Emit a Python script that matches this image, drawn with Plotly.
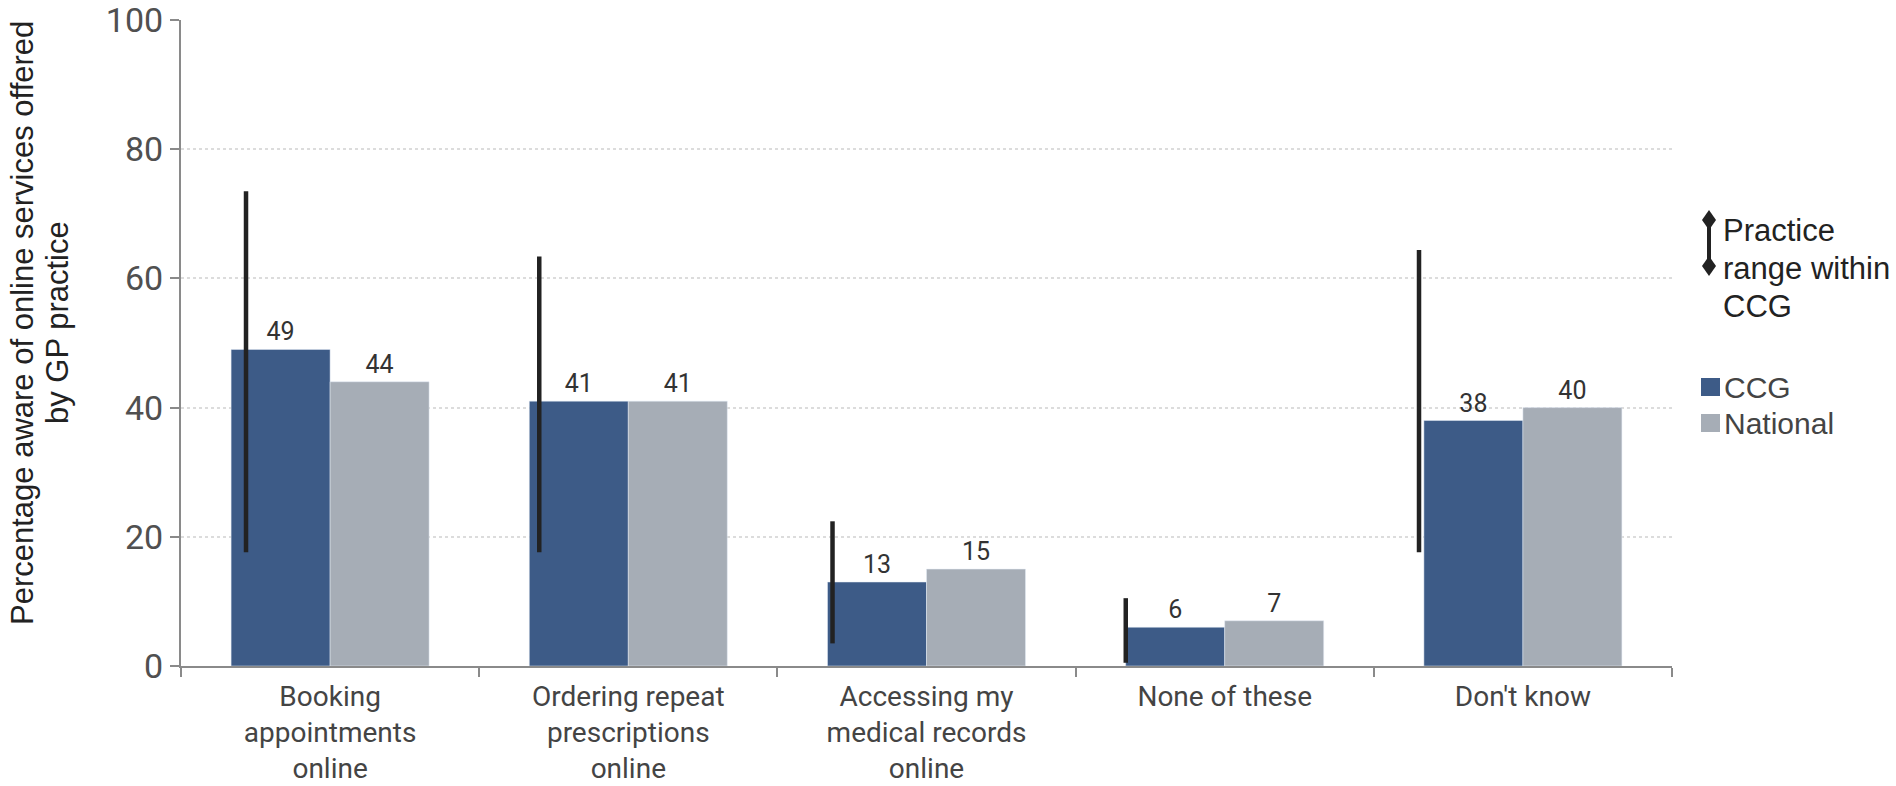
import plotly.graph_objects as go

categories = ["Booking<br>appointments<br>online",
              "Ordering repeat<br>prescriptions<br>online",
              "Accessing my<br>medical records<br>online",
              "None of these",
              "Don't know"]
ccg = [49, 41, 13, 6, 38]
national = [44, 41, 15, 7, 40]
range_low = [17.6, 17.6, 3.5, 0.5, 17.6]
range_high = [73.5, 63.4, 22.4, 10.5, 64.4]
y_ticks = [0, 20, 40, 60, 80, 100]

CCG_COLOR = "#3d5b87"
NAT_COLOR = "#a6adb6"
LINE_COLOR = "#222222"

W, H = 1896, 786
L, R, T, B = 181, 224, 20, 120
PW = W - L - R
PH = H - T - B

def px(xp):
    return (xp - L) / PW

def py(yp):
    return (H - B - yp) / PH

fig = go.Figure()
fig.add_trace(go.Bar(x=categories, y=ccg, name="CCG", marker_color=CCG_COLOR,
                     text=[str(v) for v in ccg], textposition="outside",
                     textfont=dict(family="Roboto", size=25, color="#333333"),
                     cliponaxis=False, showlegend=False))
fig.add_trace(go.Bar(x=categories, y=national, name="National", marker_color=NAT_COLOR,
                     text=[str(v) for v in national], textposition="outside",
                     textfont=dict(family="Roboto", size=25, color="#333333"),
                     cliponaxis=False, showlegend=False))

lx, ly = [], []
for i, (lo, hi) in enumerate(zip(range_low, range_high)):
    lx += [i, i, None]
    ly += [lo, hi, None]
fig.add_trace(go.Scatter(x=lx, y=ly, mode="lines", xaxis="x2", yaxis="y",
                         line=dict(color=LINE_COLOR, width=4.5), showlegend=False,
                         hoverinfo="skip"))

fig.update_layout(
    width=W, height=H,
    margin=dict(l=L, r=R, t=T, b=B, pad=0, autoexpand=False),
    paper_bgcolor="white", plot_bgcolor="white",
    barmode="group", bargap=0.336, bargroupgap=0,
    font=dict(family="Roboto", color="#444444"),
    xaxis=dict(tickson="boundaries", ticks="outside", ticklen=9, tickwidth=1.5,
               tickcolor="#8a8a8a", showline=True, linecolor="#8a8a8a", linewidth=2,
               tickfont=dict(family="Roboto", size=28, color="#444444"),
               ticklabelstandoff=4, automargin=False,
               showgrid=False, zeroline=False),
    xaxis2=dict(overlaying="x", range=[-0.2217, 4.8627], visible=False),
    yaxis=dict(range=[0, 100], tickvals=y_ticks, ticks="outside", ticklen=9,
               tickwidth=1.5, tickcolor="#8a8a8a", showline=True, linecolor="#8a8a8a",
               linewidth=2, tickfont=dict(family="Roboto", size=34, color="#505050"),
               ticklabeloverflow="allow", automargin=False,
               showgrid=True, gridcolor="#dcdcdc", griddash="dot", gridwidth=1.5,
               zeroline=False),
)

# y-axis title (two lines)
for txt, xc in (("Percentage aware of online services offered", 22),
                ("by GP practice", 57)):
    fig.add_annotation(text=txt, xref="paper", yref="paper", x=px(xc), y=py(323),
                       textangle=-90, showarrow=False, xanchor="center", yanchor="middle",
                       font=dict(family="Liberation Sans", size=31, color="#222222"))

# legend: practice range
fig.add_shape(type="line", xref="paper", yref="paper", x0=px(1709), x1=px(1709),
              y0=py(220), y1=py(266), line=dict(color=LINE_COLOR, width=4))
for yy in (220, 266):
    fig.add_shape(type="path", xref="paper", yref="paper",
                  path=f"M {px(1709)},{py(yy-10)} L {px(1716)},{py(yy)} L {px(1709)},{py(yy+10)} L {px(1702)},{py(yy)} Z",
                  fillcolor=LINE_COLOR, line=dict(width=0))
for txt, yc in (("Practice", 230), ("range within", 268), ("CCG", 306)):
    fig.add_annotation(text=txt, xref="paper", yref="paper",
                       x=px(1721), y=py(yc), xanchor="left", yanchor="middle", align="left",
                       showarrow=False, font=dict(family="Liberation Sans", size=31, color="#222222"))

# legend: series
for name, col, yc in (("CCG", CCG_COLOR, 387), ("National", NAT_COLOR, 423)):
    fig.add_shape(type="rect", xref="paper", yref="paper", x0=px(1701), x1=px(1720),
                  y0=py(yc - 9), y1=py(yc + 9), fillcolor=col, line=dict(width=0))
    fig.add_annotation(text=name, xref="paper", yref="paper", x=px(1722), y=py(yc),
                       xanchor="left", yanchor="middle", showarrow=False,
                       font=dict(family="Liberation Sans", size=30, color="#444444"))

fig.write_html("out.html", config={"displayModeBar": False},
               post_script="document.body.style.margin='0';")
